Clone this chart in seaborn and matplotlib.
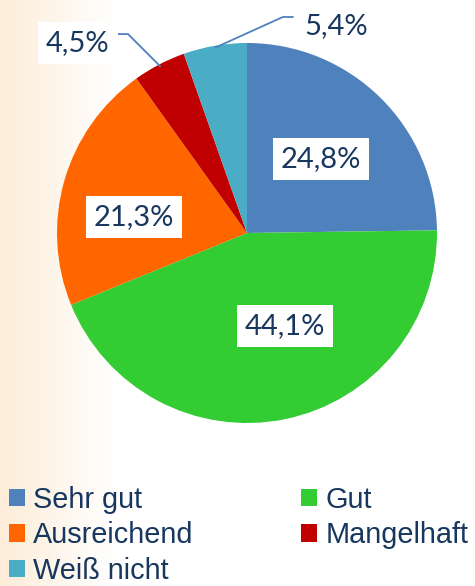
import numpy as np
import matplotlib
matplotlib.use("Agg")
import matplotlib.pyplot as plt
import seaborn as sns
from matplotlib.patches import Patch

sns.set_theme(style="white")
plt.rcParams["font.family"] = ["Liberation Sans", "DejaVu Sans"]

# Daten
kategorien = ["Sehr gut", "Gut", "Ausreichend", "Mangelhaft", "Weiß nicht"]
werte = [24.8, 44.1, 21.3, 4.5, 5.4]
beschriftung = ["24,8%", "44,1%", "21,3%", "4,5%", "5,4%"]
farben = ["#4F81BD", "#33CC33", "#FF6600", "#C00000", "#4BACC6"]
textfarbe = "#17375E"

W, H = 475, 586
fig = plt.figure(figsize=(W / 100, H / 100), dpi=100)

# Hintergrund mit Farbverlauf links
bg = fig.add_axes([0, 0, 1, 1], zorder=-10)
grad = np.clip(np.linspace(0, 1, 475) / (115 / 475), 0, 1)
start = np.array(matplotlib.colors.to_rgb("#FDEDD9"))
img = start[None, :] * (1 - grad[:, None]) + np.ones(3)[None, :] * grad[:, None]
bg.imshow(img[None, :, :], aspect="auto", extent=[0, 1, 0, 1])
bg.axis("off")

# Kreisdiagramm
cx, cy, r = 247, 233, 190
ax = fig.add_axes([(cx - r) / W, 1 - (cy + r) / H, 2 * r / W, 2 * r / H])
wedges, _ = ax.pie(werte, colors=farben, startangle=90, counterclock=False,
                   wedgeprops=dict(linewidth=0))
ax.set_xlim(-1, 1)
ax.set_ylim(-1, 1)
ax.set_aspect("equal")
ax.axis("off")

# Beschriftungspositionen (Datenkoordinaten)
label_pos = [(0.39, 0.39), (0.20, -0.49), (-0.595, 0.085), (-0.89, 1.0), (0.47, 1.09)]
mit_box = [True, True, True, True, False]
for txt, (x, y), box in zip(beschriftung, label_pos, mit_box):
    ax.text(x, y, txt, ha="center", va="center", fontsize=21, color=textfarbe,
            family=["Lato", "DejaVu Sans"],
            bbox=dict(boxstyle="square,pad=0.28", fc="white", ec="none") if box else None,
            clip_on=False)

# Führungslinien für kleine Segmente
linien = {3: [(-0.679, 1.047), (-0.626, 1.047)], 4: [(0.242, 1.137), (0.189, 1.137)]}
for i, pts in linien.items():
    w = wedges[i]
    mid = np.deg2rad((w.theta1 + w.theta2) / 2)
    ende = (np.cos(mid) * 0.99, np.sin(mid) * 0.99)
    xs = [p[0] for p in pts] + [ende[0]]
    ys = [p[1] for p in pts] + [ende[1]]
    ax.plot(xs, ys, color="#4F81BD", lw=1.3, clip_on=False)

# Legende
reihenfolge = [0, 2, 4, 1, 3]
handles = [Patch(facecolor=farben[i], edgecolor="none") for i in reihenfolge]
labels = [kategorien[i] for i in reihenfolge]
fig.legend(handles, labels, ncol=2, loc="upper left", bbox_to_anchor=(0.0, 0.186),
           frameon=False, fontsize=20.8, labelcolor=textfarbe,
           handlelength=0.55, handleheight=0.55, handletextpad=0.3,
           labelspacing=0.26, columnspacing=3.7, borderaxespad=0, borderpad=0.3)

fig.savefig("out.png", dpi=100)
